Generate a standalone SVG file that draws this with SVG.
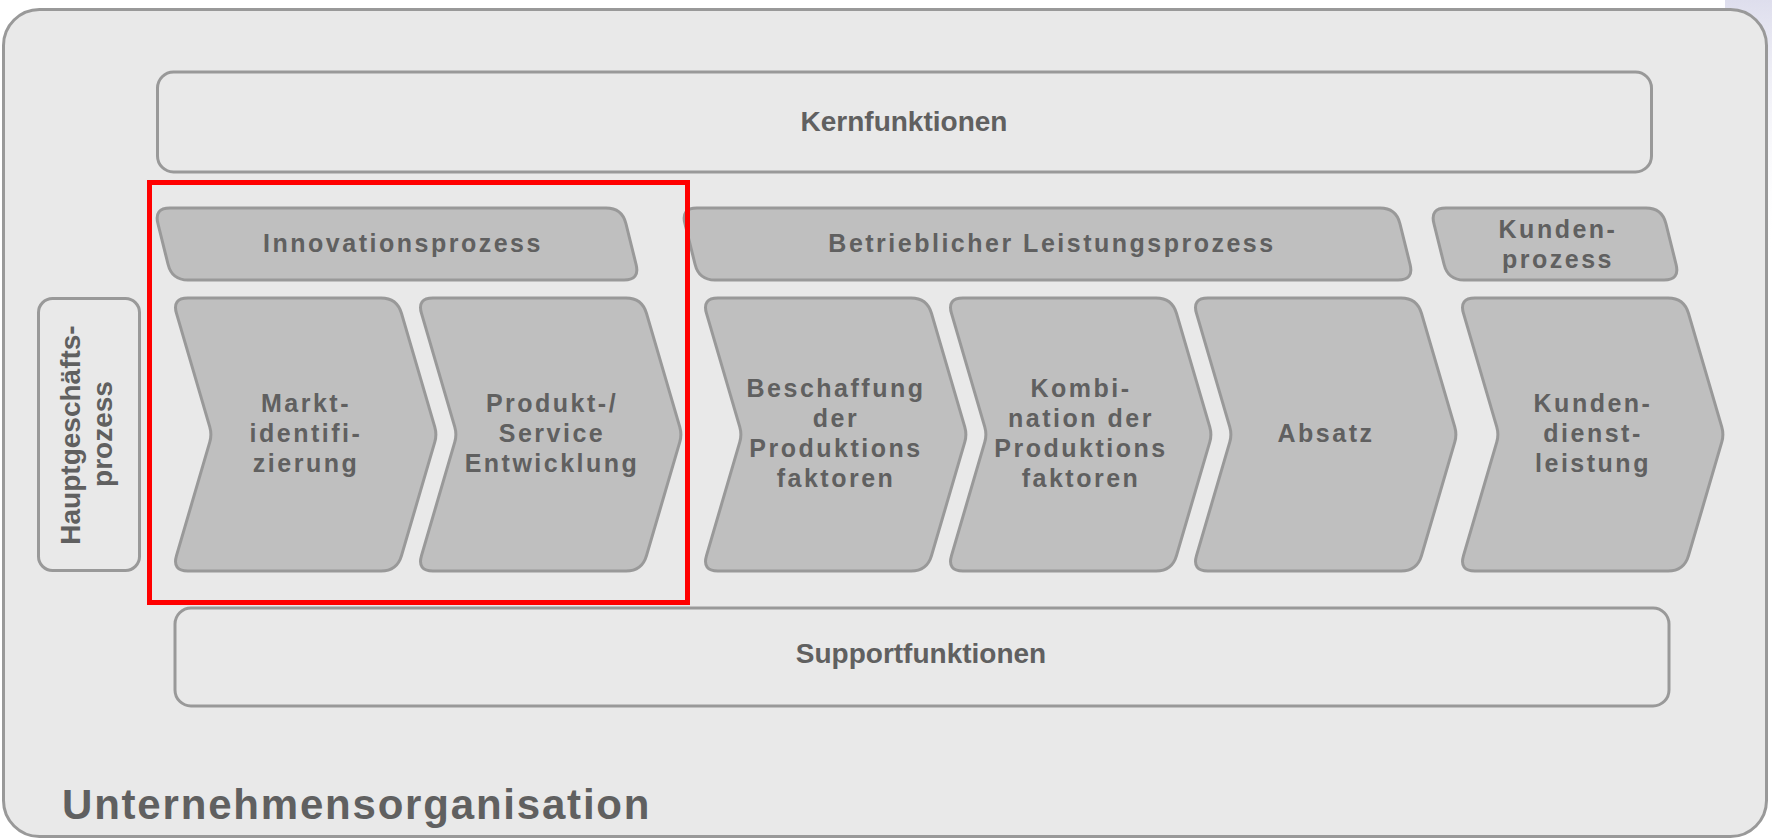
<svg xmlns="http://www.w3.org/2000/svg" xmlns:xlink="http://www.w3.org/1999/xlink" width="1772" height="839" viewBox="0 0 1772 839">
<style>
.box{fill:#e9e9e9;stroke:#999999;stroke-width:3}
.shape{fill:#bfbfbf;stroke:#999999;stroke-width:3}
.t{font-family:"Liberation Sans",Arial,sans-serif;font-weight:bold;fill:#606060;text-anchor:middle}
.big{font-size:28px}
.sp{font-size:25px;letter-spacing:2.5px}
</style>
<defs>
<linearGradient id="corner" x1="0" y1="0" x2="0" y2="1">
<stop offset="0" stop-color="#dedeed"/>
<stop offset="1" stop-color="#ffffff" stop-opacity="0"/>
</linearGradient>
<path id="chev" d="M 4.5 313.4 Q 0 298 16 298 L 209 298 Q 225 298 229.5 313.4 L 262.75 426.8 Q 265 434.5 262.75 442.2 L 229.5 555.6 Q 225 571 209 571 L 16 571 Q 0 571 4.5 555.6 L 37.75 442.2 Q 40 434.5 37.75 426.8 Z"/>
</defs>
<rect x="0" y="0" width="1772" height="839" fill="#ffffff"/>
<rect x="1725" y="0" width="47" height="260" fill="url(#corner)"/>

<g id="unternehmensorganisation">
<rect class="box" x="3.5" y="9.5" width="1763" height="827" rx="36"/>
<text class="t" x="62" y="819" style="font-size:42px;letter-spacing:1.8px;text-anchor:start">Unternehmensorganisation</text>
</g>

<g id="kernfunktionen">
<rect class="box" x="157.5" y="72" width="1494" height="100" rx="16"/>
<text class="t big" x="904" y="131">Kernfunktionen</text>
</g>

<g id="hauptgeschaeftsprozess">
<rect class="box" x="38.5" y="298.5" width="101" height="272" rx="14"/>
<text class="t big" transform="translate(80,435) rotate(-90)">Hauptgeschäfts-</text>
<text class="t big" transform="translate(112,434) rotate(-90)">prozess</text>
</g>

<g id="innovationsprozess">
<path class="shape" d="M 157.9 223.5 Q 154 208 170 208 L 606 208 Q 622 208 625.9 223.5 L 636.1 264.5 Q 640 280 624 280 L 188 280 Q 172 280 168.1 264.5 Z"/>
<text class="t sp" x="403" y="252">Innovationsprozess</text>
</g>

<g id="leistungsprozess">
<path class="shape" d="M 684.9 223.5 Q 681 208 697 208 L 1380 208 Q 1396 208 1399.9 223.5 L 1410.1 264.5 Q 1414 280 1398 280 L 715 280 Q 699 280 695.1 264.5 Z"/>
<text class="t sp" x="1052" y="252">Betrieblicher Leistungsprozess</text>
</g>

<g id="kundenprozess">
<path class="shape" d="M 1433.9 223.5 Q 1430 208 1446 208 L 1646 208 Q 1662 208 1665.9 223.5 L 1676.1 264.5 Q 1680 280 1664 280 L 1464 280 Q 1448 280 1444.1 264.5 Z"/>
<text class="t sp" x="1558" y="238">Kunden-</text>
<text class="t sp" x="1558" y="268">prozess</text>
</g>

<g id="marktidentifizierung">
<use xlink:href="#chev" href="#chev" class="shape" x="172"/>
<text class="t sp" x="306" y="412">Markt-</text>
<text class="t sp" x="306" y="442">identifi-</text>
<text class="t sp" x="306" y="472">zierung</text>
</g>

<g id="produktentwicklung">
<use xlink:href="#chev" href="#chev" class="shape" x="417"/>
<text class="t sp" x="552" y="412">Produkt-/</text>
<text class="t sp" x="552" y="442">Service</text>
<text class="t sp" x="552" y="472">Entwicklung</text>
</g>

<g id="beschaffung">
<use xlink:href="#chev" href="#chev" class="shape" x="702"/>
<text class="t sp" x="836" y="397">Beschaffung</text>
<text class="t sp" x="836" y="427">der</text>
<text class="t sp" x="836" y="457">Produktions</text>
<text class="t sp" x="836" y="487">faktoren</text>
</g>

<g id="kombination">
<use xlink:href="#chev" href="#chev" class="shape" x="947"/>
<text class="t sp" x="1081" y="397">Kombi-</text>
<text class="t sp" x="1081" y="427">nation der</text>
<text class="t sp" x="1081" y="457">Produktions</text>
<text class="t sp" x="1081" y="487">faktoren</text>
</g>

<g id="absatz">
<use xlink:href="#chev" href="#chev" class="shape" x="1192"/>
<text class="t sp" x="1326" y="442">Absatz</text>
</g>

<g id="kundendienstleistung">
<use xlink:href="#chev" href="#chev" class="shape" x="1459"/>
<text class="t sp" x="1593" y="412">Kunden-</text>
<text class="t sp" x="1593" y="442">dienst-</text>
<text class="t sp" x="1593" y="472">leistung</text>
</g>

<g id="supportfunktionen">
<rect class="box" x="175" y="608" width="1494" height="98" rx="16"/>
<text class="t big" x="921" y="663">Supportfunktionen</text>
</g>

<g id="connectors"></g>

<g id="highlight">
<rect x="149.5" y="182.5" width="538" height="420" fill="none" stroke="#ff0000" stroke-width="5"/>
</g>
</svg>
